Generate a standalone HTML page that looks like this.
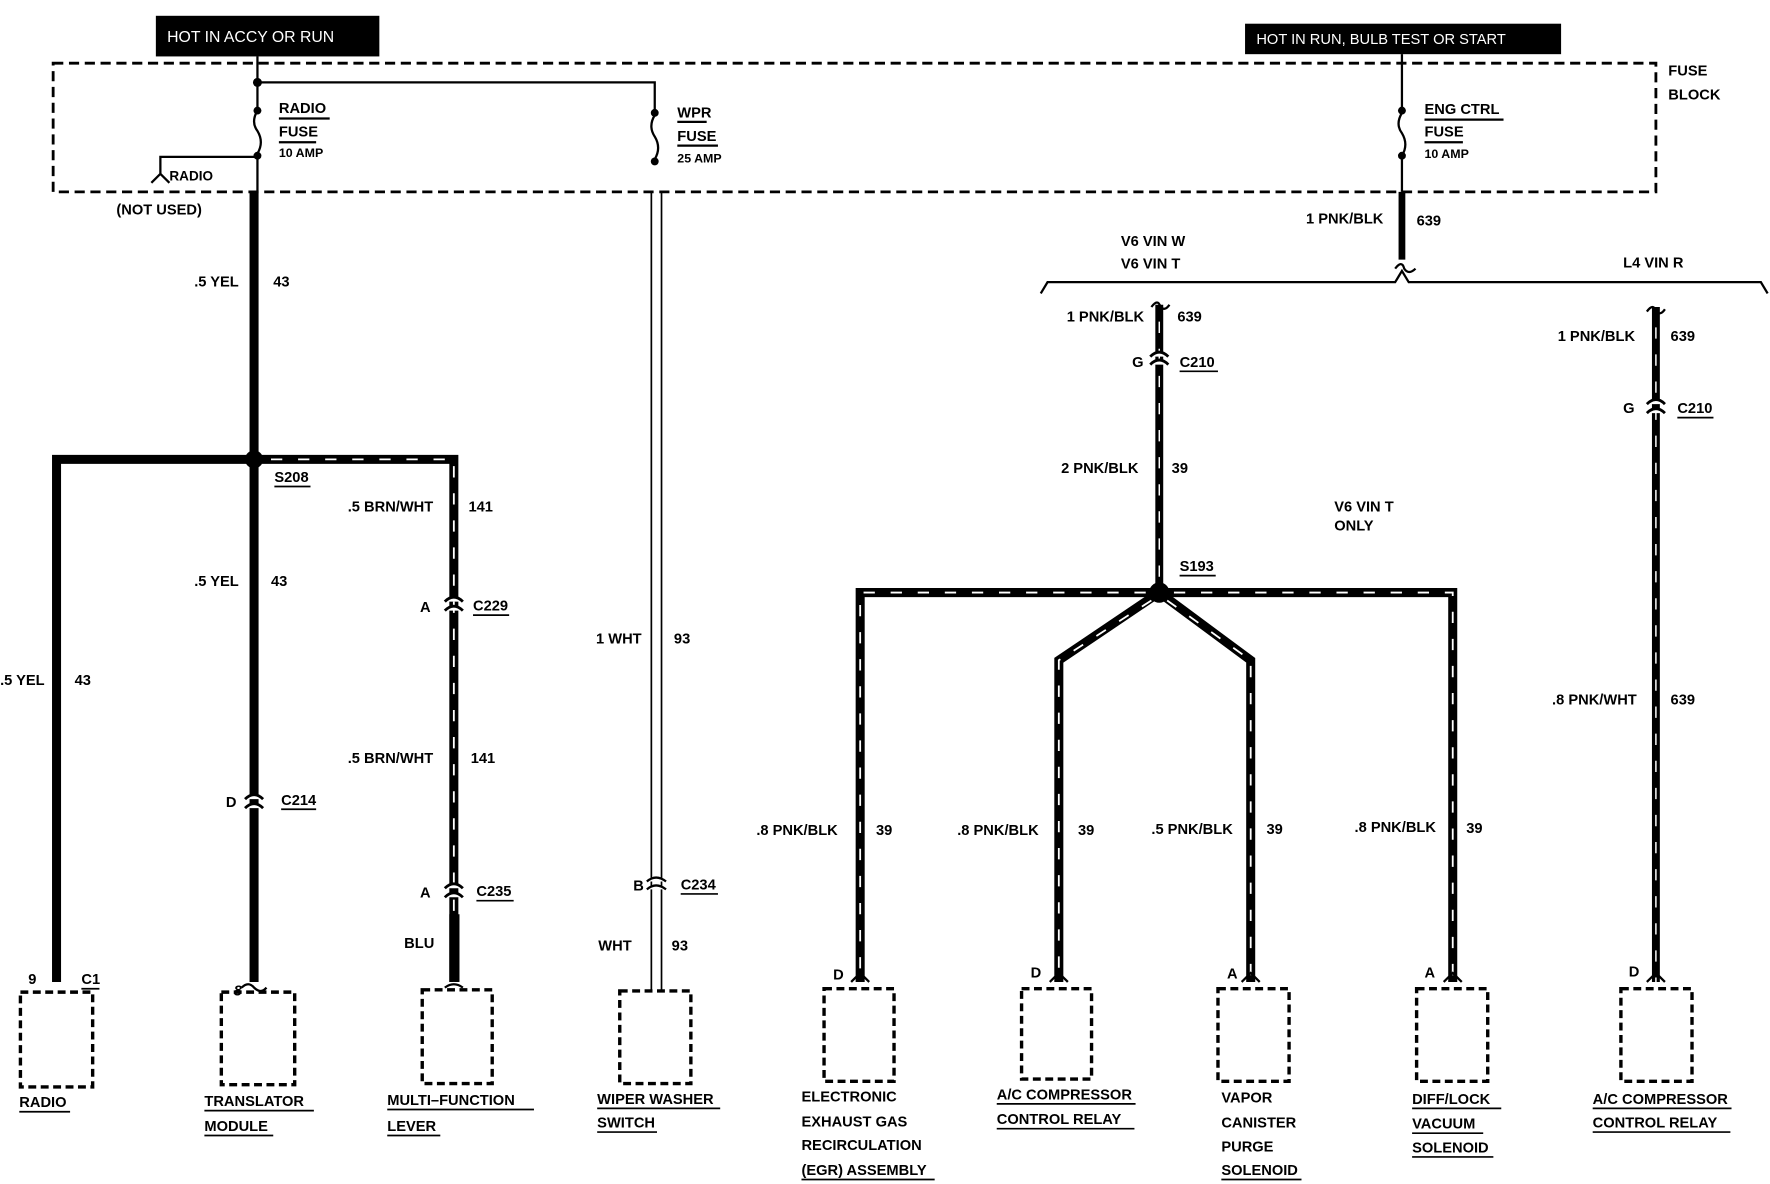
<!DOCTYPE html>
<html><head><meta charset="utf-8"><style>
html,body{margin:0;padding:0;background:#fff;}
svg{display:block;}
text{font-family:"Liberation Sans Narrow","Liberation Sans",sans-serif;font-weight:bold !important;font-size:13px;fill:#000;}
text.w{fill:#fff;font-family:"Liberation Sans",sans-serif;font-weight:normal !important;font-size:14px;}
.thick{stroke:#000;stroke-width:8;fill:none;}
.str{stroke:#fff;stroke-width:1.6;fill:none;stroke-dasharray:10 14;}
.thin{stroke:#000;stroke-width:2;fill:none;}
.box{stroke:#000;stroke-width:3;fill:#fff;stroke-dasharray:7 4;}
</style></head><body>
<svg width="1770" height="1184" viewBox="0 0 1568 1049" xmlns="http://www.w3.org/2000/svg">
<rect x="138" y="14" width="198" height="36" fill="#000"/>
<text class="w" x="148" y="37">HOT IN ACCY OR RUN</text>
<rect x="1103" y="21" width="280" height="27" fill="#000"/>
<text class="w" x="1113" y="39" style="font-size:13px">HOT IN RUN, BULB TEST OR START</text>
<rect x="47" y="56" width="1420" height="114" fill="none" stroke="#000" stroke-width="2.5" stroke-dasharray="9 5"/>
<text x="1478" y="67">FUSE</text>
<text x="1478" y="88">BLOCK</text>
<path class="thin" d="M228 50V73H580V98"/>
<circle cx="228" cy="73" r="4"/>
<path class="thin" d="M228 73V96M228 98q-6 10 0 18q6 10 0 20M228 138V170"/>
<circle cx="228" cy="98" r="3.5"/><circle cx="228" cy="138" r="3.5"/>
<text x="247" y="100">RADIO</text><line x1="247" y1="105" x2="292" y2="105" stroke="#000" stroke-width="2"/>
<text x="247" y="121">FUSE</text><line x1="247" y1="126" x2="280" y2="126" stroke="#000" stroke-width="2"/>
<text x="247" y="139" style="font-size:11px">10 AMP</text>
<path class="thin" d="M228 139H142V155M134 162l8-8l8 8"/>
<text x="150" y="160" style="font-size:12px">RADIO</text>
<text x="103" y="190">(NOT USED)</text>
<circle cx="580" cy="100" r="3.5"/><circle cx="580" cy="143" r="3.5"/>
<path class="thin" d="M580 102q-6 10 0 19q6 10 0 20"/>
<text x="600" y="104">WPR</text><line x1="600" y1="108" x2="626" y2="108" stroke="#000" stroke-width="2"/>
<text x="600" y="125">FUSE</text><line x1="600" y1="129" x2="636" y2="129" stroke="#000" stroke-width="2"/>
<text x="600" y="144" style="font-size:11px">25 AMP</text>
<path class="thin" d="M1242 48V97M1242 100q-6 10 0 18q6 10 0 20M1242 138V170"/>
<circle cx="1242" cy="98" r="3.5"/><circle cx="1242" cy="138" r="3.5"/>
<text x="1262" y="101">ENG CTRL</text><line x1="1262" y1="106" x2="1332" y2="106" stroke="#000" stroke-width="2"/>
<text x="1262" y="121">FUSE</text><line x1="1262" y1="126" x2="1296" y2="126" stroke="#000" stroke-width="2"/>
<text x="1262" y="140" style="font-size:11px">10 AMP</text>
<path class="thick" d="M225 170V870"/>
<path class="thick" d="M225 407H50V870"/>
<circle cx="225" cy="407" r="8"/>
<text x="172" y="254">.5 YEL</text><text x="242" y="254">43</text>
<text x="243" y="427">S208</text><line x1="243" y1="431" x2="275" y2="431" stroke="#000" stroke-width="1.5"/>
<text x="172" y="519">.5 YEL</text><text x="240" y="519">43</text>
<text x="0" y="607">.5 YEL</text><text x="66" y="607">43</text>
<path d="M217 716q8-8 16 0M217 708q8-8 16 0" stroke="#000" stroke-width="2.5" fill="#fff"/>
<text x="200" y="715">D</text><text x="249" y="713">C214</text><line x1="249" y1="717" x2="280" y2="717" stroke="#000" stroke-width="1.5"/>
<path class="thick" d="M232 407H402V870"/>
<path class="str" d="M240 407H402V870"/>
<text x="308" y="453">.5 BRN/WHT</text><text x="415" y="453">141</text>
<path d="M394 541q8-8 16 0M394 533q8-8 16 0" stroke="#000" stroke-width="2.5" fill="#fff"/>
<text x="372" y="542">A</text><text x="419" y="541">C229</text><line x1="419" y1="545" x2="451" y2="545" stroke="#000" stroke-width="1.5"/>
<text x="308" y="676">.5 BRN/WHT</text><text x="417" y="676">141</text>
<path d="M394 795q8-8 16 0M394 787q8-8 16 0" stroke="#000" stroke-width="2.5" fill="#fff"/>
<text x="372" y="795">A</text><text x="422" y="794">C235</text><line x1="422" y1="798" x2="455" y2="798" stroke="#000" stroke-width="1.5"/>
<rect x="398" y="810" width="9" height="60" fill="#000"/>
<text x="358" y="840">BLU</text>
<path class="thin" d="M577 170V878M586 170V878" style="stroke-width:1.5"/>
<text x="528" y="570">1 WHT</text><text x="597" y="570">93</text>
<path d="M573 788q8-7 17 0M573 781q8-7 17 0" stroke="#000" stroke-width="2" fill="#fff"/>
<text x="561" y="789">B</text><text x="603" y="788">C234</text><line x1="603" y1="792" x2="636" y2="792" stroke="#000" stroke-width="1.5"/>
<text x="530" y="842">WHT</text><text x="595" y="842">93</text>
<path class="thick" d="M1242 170V230" style="stroke-width:6"/>
<path d="M1236 238q6-8 8 0q4 6 10 0" class="thin"/>
<text x="1157" y="198">1 PNK/BLK</text><text x="1255" y="200">639</text>
<path class="thin" d="M922 260L928 250H1236L1242 240L1248 250H1560L1566 260"/>
<text x="993" y="218">V6 VIN W</text><text x="993" y="238">V6 VIN T</text>
<text x="1438" y="237">L4 VIN R</text>
<path class="thick" d="M1027 270V525" style="stroke-width:7"/>
<path class="str" d="M1027 285V525" style="stroke-width:1.3"/>
<path class="thin" d="M1020 272q6-8 8 0q4 4 8-2"/>
<path d="M1019 323q8-8 16 0M1019 316q8-8 16 0" stroke="#000" stroke-width="2.5" fill="#fff"/>
<text x="945" y="285">1 PNK/BLK</text><text x="1043" y="285">639</text>
<text x="1003" y="325">G</text><text x="1045" y="325">C210</text><line x1="1045" y1="329" x2="1079" y2="329" stroke="#000" stroke-width="1.5"/>
<text x="940" y="419">2 PNK/BLK</text><text x="1038" y="419">39</text>
<text x="1182" y="453">V6 VIN T</text><text x="1182" y="470">ONLY</text>
<text x="1045" y="506">S193</text><line x1="1045" y1="510" x2="1077" y2="510" stroke="#000" stroke-width="1.5"/>
<path class="thick" d="M1027 525H762V870M1027 525H1287V870M1027 525L938 585V870M1027 525L1108 585V870"/>
<path class="str" d="M1015 525H762V870M1040 525H1287V870M1020 532L938 585V870M1034 532L1108 585V870"/>
<circle cx="1027" cy="525" r="9"/>
<text x="670" y="740">.8 PNK/BLK</text><text x="776" y="740">39</text>
<text x="848" y="740">.8 PNK/BLK</text><text x="955" y="740">39</text>
<text x="1020" y="739">.5 PNK/BLK</text><text x="1122" y="739">39</text>
<text x="1200" y="737">.8 PNK/BLK</text><text x="1299" y="738">39</text>
<path class="thick" d="M1467 272V870" style="stroke-width:7"/>
<path class="str" d="M1467 290V870" style="stroke-width:1.3"/>
<path class="thin" d="M1459 276q6-8 8 0q4 4 8-2"/>
<path d="M1459 366q8-8 16 0M1459 358q8-8 16 0" stroke="#000" stroke-width="2.5" fill="#fff"/>
<text x="1380" y="302">1 PNK/BLK</text><text x="1480" y="302">639</text>
<text x="1438" y="366">G</text><text x="1486" y="366">C210</text><line x1="1486" y1="370" x2="1518" y2="370" stroke="#000" stroke-width="1.5"/>
<text x="1375" y="624">.8 PNK/WHT</text><text x="1480" y="624">639</text>
<path class="thin" d="M214 875q6-6 11 0q6 6 11 0M394 875q8-6 16 0M754 870l8-8l8 8M930 870l8-8l8 8M1100 870l8-8l8 8M1279 870l8-8l8 8M1459 870l8-8l8 8"/>
<rect class="box" x="18" y="879" width="64" height="84"/>
<rect class="box" x="196" y="879" width="65" height="82"/>
<rect class="box" x="374" y="877" width="62" height="83"/>
<rect class="box" x="549" y="878" width="63" height="82"/>
<rect class="box" x="730" y="876" width="62" height="82"/>
<rect class="box" x="905" y="876" width="62" height="80"/>
<rect class="box" x="1079" y="876" width="63" height="82"/>
<rect class="box" x="1255" y="876" width="63" height="82"/>
<rect class="box" x="1436" y="876" width="63" height="82"/>
<text x="25" y="872">9</text><text x="72" y="872">C1</text><line x1="72" y1="876" x2="88" y2="876" stroke="#000" stroke-width="1.5"/>
<text x="207" y="882" style="font-style:italic">8</text>
<text x="738" y="868">D</text><text x="913" y="866">D</text><text x="1087" y="867">A</text><text x="1262" y="866">A</text><text x="1443" y="865">D</text>
<text x="17" y="981">RADIO</text>
<text x="181" y="980">TRANSLATOR</text><text x="181" y="1002">MODULE</text>
<text x="343" y="979">MULTI–FUNCTION</text><text x="343" y="1002">LEVER</text>
<text x="529" y="978">WIPER WASHER</text><text x="529" y="999">SWITCH</text>
<text x="710" y="976">ELECTRONIC</text><text x="710" y="998">EXHAUST GAS</text><text x="710" y="1019">RECIRCULATION</text><text x="710" y="1041">(EGR) ASSEMBLY</text>
<text x="883" y="974">A/C COMPRESSOR</text><text x="883" y="996">CONTROL RELAY</text>
<text x="1082" y="977">VAPOR</text><text x="1082" y="999">CANISTER</text><text x="1082" y="1020">PURGE</text><text x="1082" y="1041">SOLENOID</text>
<text x="1251" y="978">DIFF/LOCK</text><text x="1251" y="1000">VACUUM</text><text x="1251" y="1021">SOLENOID</text>
<text x="1411" y="978">A/C COMPRESSOR</text><text x="1411" y="999">CONTROL RELAY</text>
<g stroke="#000" stroke-width="1.5">
<line x1="17" y1="985" x2="62" y2="985"/>
<line x1="181" y1="984" x2="278" y2="984"/><line x1="181" y1="1006" x2="242" y2="1006"/>
<line x1="343" y1="983" x2="473" y2="983"/><line x1="343" y1="1006" x2="390" y2="1006"/>
<line x1="529" y1="982" x2="638" y2="982"/><line x1="529" y1="1003" x2="582" y2="1003"/>
<line x1="710" y1="1045" x2="828" y2="1045"/>
<line x1="883" y1="978" x2="1006" y2="978"/><line x1="883" y1="1000" x2="1005" y2="1000"/>
<line x1="1082" y1="1045" x2="1153" y2="1045"/>
<line x1="1251" y1="982" x2="1330" y2="982"/><line x1="1251" y1="1004" x2="1314" y2="1004"/><line x1="1251" y1="1025" x2="1323" y2="1025"/>
<line x1="1411" y1="982" x2="1534" y2="982"/><line x1="1411" y1="1003" x2="1533" y2="1003"/>
</g>
</svg>
</body></html>
